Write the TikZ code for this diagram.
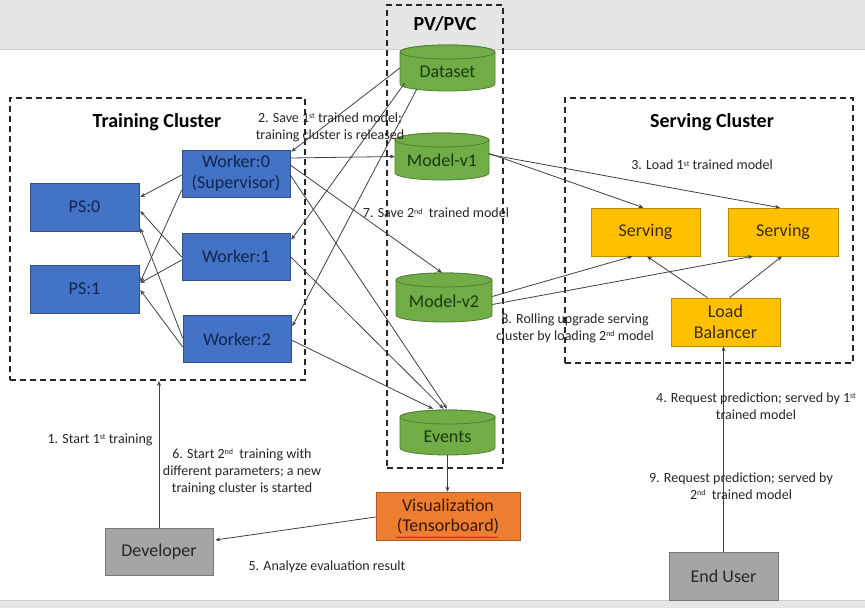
\documentclass[tikz,border=0pt]{standalone}
\usepackage{fontspec}
\setmainfont{Carlito}
\usetikzlibrary{calc,arrows.meta,decorations.pathmorphing}
\definecolor{bandgrey}{HTML}{E7E6E6}
\definecolor{bandline}{HTML}{D0CECE}
\definecolor{bluefill}{HTML}{4472C4}
\definecolor{blueline}{HTML}{2F528F}
\definecolor{bluetext}{HTML}{10254F}
\definecolor{cylfill}{HTML}{70AD47}
\definecolor{cylline}{HTML}{507E32}
\definecolor{greentext}{HTML}{1B3A0F}
\definecolor{yelfill}{HTML}{FFC000}
\definecolor{yelline}{HTML}{BC8C00}
\definecolor{yeltext}{HTML}{3B2C00}
\definecolor{orfill}{HTML}{ED7D31}
\definecolor{orline}{HTML}{AE5A21}
\definecolor{ortext}{HTML}{3A1A06}
\definecolor{gryfill}{HTML}{A5A5A5}
\definecolor{gryline}{HTML}{787878}
\definecolor{grytext}{HTML}{262626}
\definecolor{arrowcol}{HTML}{404040}
\definecolor{labcol}{HTML}{262626}
\newcommand\mycyl[6]{%
  \pgfmathsetmacro\myrx{#4/2}%
  \filldraw[fill=cylfill,draw=cylline,line width=0.8pt]
    (#2-#4/2,#3-#5/2+7) -- (#2-#4/2,#3+#5/2-7)
    arc[start angle=180,end angle=360,x radius=\myrx pt,y radius=7pt]
    -- (#2+#4/2,#3-#5/2+7)
    arc[start angle=0,end angle=180,x radius=\myrx pt,y radius=7pt] -- cycle;
  \draw[fill=cylfill,draw=cylline,line width=0.8pt] (#2,#3-#5/2+7) ellipse[x radius=\myrx pt,y radius=7pt];
  \node[inner sep=0pt,minimum width=#4pt,minimum height=#5pt] (#1) at (#2,#3) {};
  \node[boxfont,text=greentext] at (#2,#3+4) {#6};
}
\newcommand\sps[1]{\raisebox{0.55ex}{\fontsize{8}{8}\selectfont #1}}
\begin{document}
\begin{tikzpicture}[x=1pt,y=-1pt,
  boxfont/.style={font=\fontsize{18}{21}\selectfont},
  labfont/.style={font=\fontsize{14}{17}\selectfont,text=labcol,align=center,inner sep=0pt},
  titlefont/.style={font=\bfseries\fontsize{20}{24}\selectfont,text=black},
  bluebox/.style={draw=blueline,fill=bluefill,line width=0.6pt,boxfont,text=bluetext,align=center,minimum width=108pt,minimum height=47pt,inner sep=1pt},
  yelbox/.style={draw=yelline,fill=yelfill,line width=0.6pt,boxfont,text=yeltext,align=center,minimum width=109pt,minimum height=48pt,inner sep=1pt},
  grybox/.style={draw=gryline,fill=gryfill,line width=0.6pt,boxfont,text=grytext,align=center,minimum width=108pt,minimum height=47pt,inner sep=1pt},
  orbox/.style={draw=orline,fill=orfill,line width=0.6pt,boxfont,text=ortext,align=center,minimum width=144pt,minimum height=48pt,inner sep=1pt},
  dashbox/.style={draw=black!85,line width=1.8pt,dash pattern=on 6pt off 4pt,inner sep=0pt},
  arr/.style={draw=arrowcol,line width=0.8pt,-{Stealth[length=5pt,width=4pt]}}
]
\useasboundingbox (0,0) rectangle (865,608);
% background bands
\fill[white] (0,0) rectangle (865,608);
\fill[bandgrey] (0,0) rectangle (865,49);
\draw[bandline,line width=1pt] (0,49.5) -- (865,49.5);
\fill[bandgrey] (0,600) rectangle (865,608);
\draw[bandline,line width=1pt] (0,600) -- (865,600);

% dashed containers
\node[dashbox,minimum width=295pt,minimum height=282pt] (tc) at (157.5,239) {};
\node[dashbox,minimum width=116pt,minimum height=463pt] (pv) at (445,236.5) {};
\node[dashbox,minimum width=288pt,minimum height=265pt] (sc) at (709,230.5) {};
\node[titlefont] (tct) at (157,122) {Training Cluster};
\node[titlefont] (pvt) at (445,24) {PV/PVC};
\node[titlefont] (sct) at (712,122) {Serving Cluster};

% training cluster
\node[bluebox,minimum width=109pt,minimum height=48pt] (ps0) at (84.5,207) {PS:0};
\node[bluebox,minimum width=109pt,minimum height=48pt] (ps1) at (84.5,289) {PS:1};
\node[bluebox] (w0) at (236,173.5) {Worker:0\\(Supervisor)};
\node[bluebox] (w1) at (236,256.5) {Worker:1};
\node[bluebox] (w2) at (237,339) {Worker:2};

% storage
\mycyl{ds}{447.5}{68}{95}{46}{Dataset}
\mycyl{m1}{442}{156.5}{94}{47}{Model-v1}
\mycyl{m2}{444}{297.5}{96}{49}{Model-v2}
\mycyl{ev}{447.5}{432.5}{95}{45}{Events}

% serving
\node[yelbox] (s1) at (645.5,232) {Serving};
\node[yelbox,minimum width=110pt] (s2) at (783,232) {Serving};
\node[yelbox] (lb) at (725.5,322) {Load\\Balancer};

% others
\node[orbox] (viz) at (448,516) {Visualization\\[-1pt](Tensorboard)};
\draw[red!85!black,line width=0.5pt,decorate,decoration={snake,amplitude=0.6pt,segment length=3pt}]
  ($(viz.south)+(-52,-3)$) -- ($(viz.south)+(50,-3)$);
\node[grybox] (dev) at (159,551.5) {Developer};
\node[grybox,minimum width=109pt,minimum height=48pt] (eu) at (723.5,576) {End User};

% worker -> ps
\draw[arr] ($(w0.west)+(0,1.5)$) -- ($(ps0.east)+(1,-10)$);
\draw[arr] ($(w0.west)+(0,16.5)$) -- ($(ps1.east)+(1,-7)$);
\draw[arr] ($(w1.west)+(0,0.5)$) -- ($(ps0.east)+(1,4)$);
\draw[arr] ($(w1.west)+(0,3.5)$) -- ($(ps1.east)+(1,-6)$);
\draw[arr] ($(w2.west)+(0,-1)$) -- ($(ps0.east)+(1,21)$);
\draw[arr] ($(w2.west)+(0,8)$) -- ($(ps1.east)+(1,1)$);

% dataset -> workers
\draw[arr] (ds.west) -- ($(w0.north east)+(1,2)$);
\draw[arr] ($(ds.west)+(5,15)$) -- ($(w1.north east)+(1,7)$);
\draw[arr] ($(ds.south west)+(17,-2)$) -- ($(w2.north east)+(1,11)$);

% workers -> storage
\draw[arr] ($(w0.east)+(0,-15.5)$) -- (m1.west);
\draw[arr] ($(w0.east)+(0,-8.5)$) -- ($(m2.north)+(-2,0)$);
\draw[arr] ($(w0.east)+(0,1.5)$) -- ($(ev.north)+(-0.5,-1)$);
\draw[arr] (w1.east) -- ($(ev.north)+(-4,-1)$);
\draw[arr] ($(w2.east)+(0,1)$) -- ($(ev.north)+(-14.5,-1)$);

% models -> serving
\draw[arr] ($(m1.east)+(0,-3)$) -- ($(s1.north)+(-2,0)$);
\draw[arr] ($(m1.east)+(0,-2)$) -- ($(s2.north)+(-3,0)$);
\draw[arr] ($(m2.east)+(0,-1)$) -- ($(s1.south)+(-13,0)$);
\draw[arr] ($(m2.east)+(0,7)$) -- ($(s2.south)+(-30,0)$);

% load balancer -> serving
\draw[arr] ($(lb.north)+(-18,0)$) -- ($(s1.south)+(1.5,0)$);
\draw[arr] ($(lb.north)+(4,0)$) -- ($(s2.south)+(-1,0)$);

% users
\draw[arr] (eu.north) -- (eu.north |- lb.south);
\draw[arr] (ev.south) -- (ev.south |- viz.north);
\draw[arr] ($(viz.west)+(0,1)$) -- ($(dev.east)+(2,-11.5)$);
\draw[arr] (dev.north) -- (dev.north |- tc.south);

% labels
\node[labfont] (l2) at (330,127) {2. Save 1\sps{st} trained model;\\training cluster is released};
\node[labfont] (l3) at (702,165) {3. Load 1\sps{st} trained model};
\node[labfont] (l7) at (436,213) {7. Save 2\sps{nd}\ \ trained model};
\node[labfont] (l8) at (575,328) {8. Rolling upgrade serving\\cluster by loading 2\sps{nd} model};
\node[labfont] (l4) at (756,406) {4. Request prediction; served by 1\sps{st}\\trained model};
\node[labfont] (l9) at (741,486) {9. Request prediction; served by\\2\sps{nd}\ \ trained model};
\node[labfont] (l1) at (100,440) {1. Start 1\sps{st} training};
\node[labfont] (l6) at (242,472) {6. Start 2\sps{nd}\ \ training with\\different parameters; a new\\training cluster is started};
\node[labfont] (l5) at (327,567) {5. Analyze evaluation result};
\end{tikzpicture}
\end{document}
